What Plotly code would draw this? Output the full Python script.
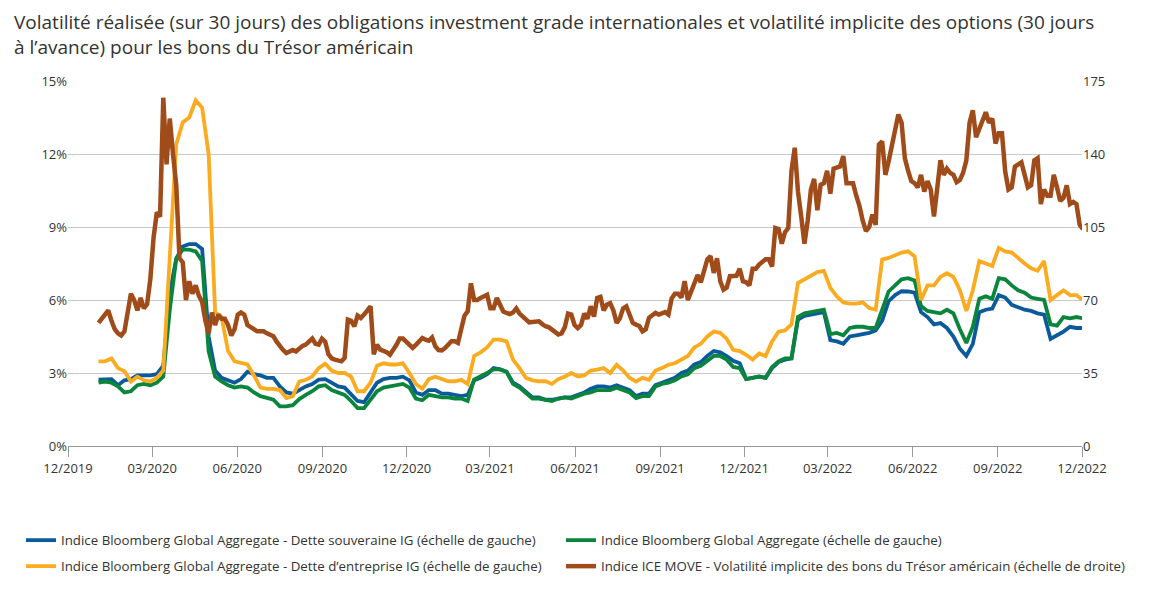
import pandas as pd
import plotly.graph_objects as go

# Weekly observations (Fridays) from 2020-01-03 to 2022-12-02
start_date = "2020-01-03"
n_weeks = 153

# Bloomberg Global Aggregate - Sovereign IG (30-day realised vol, %)
sovereign = [
    2.73, 2.75, 2.75, 2.5, 2.7, 2.75, 2.9, 2.9, 2.9, 2.95,
    3.3, 6.3, 7.7, 8.2, 8.3, 8.3, 8.1, 4.5, 3.1, 2.8,
    2.7, 2.6, 2.75, 3.05, 2.95, 2.9, 2.8, 2.8, 2.45, 2.2,
    2.15, 2.3, 2.45, 2.55, 2.73, 2.75, 2.6, 2.45, 2.4, 2.15,
    1.85, 1.8, 2.2, 2.6, 2.75, 2.8, 2.8, 2.85, 2.7, 2.2,
    2.1, 2.3, 2.3, 2.15, 2.15, 2.1, 2.05, 2.1, 2.7, 2.8,
    2.95, 3.2, 3.15, 3.05, 2.6, 2.45, 2.2, 2.0, 2.0, 1.9,
    1.9, 1.95, 2.0, 2.0, 2.1, 2.2, 2.35, 2.45, 2.45, 2.4,
    2.5, 2.4, 2.3, 2.05, 2.15, 2.15, 2.5, 2.6, 2.7, 2.8,
    3.0, 3.1, 3.35, 3.45, 3.7, 3.9, 3.85, 3.7, 3.5, 3.4,
    2.75, 2.8, 2.85, 2.8, 3.2, 3.45, 3.55, 3.6, 5.2, 5.35,
    5.4, 5.45, 5.5, 4.35, 4.3, 4.2, 4.5, 4.55, 4.6, 4.65,
    4.75, 5.15, 5.95, 6.2, 6.36, 6.35, 6.3, 5.5, 5.3, 5.0,
    5.05, 4.85, 4.5, 4.0, 3.7, 4.2, 5.5, 5.6, 5.65, 6.2,
    6.1, 5.8, 5.7, 5.6, 5.55, 5.45, 5.4, 4.4, 4.55, 4.7,
    4.9, 4.85, 4.85,
]

# Bloomberg Global Aggregate (30-day realised vol, %)
aggregate = [
    2.6, 2.65, 2.6, 2.45, 2.2, 2.25, 2.5, 2.55, 2.5, 2.6,
    2.85, 5.6, 7.7, 8.07, 8.07, 8.0, 7.6, 3.9, 2.85, 2.65,
    2.5, 2.4, 2.45, 2.4, 2.2, 2.05, 1.98, 1.9, 1.63, 1.63,
    1.68, 1.93, 2.1, 2.25, 2.45, 2.5, 2.3, 2.2, 2.1, 1.85,
    1.56, 1.56, 1.9, 2.25, 2.4, 2.45, 2.5, 2.55, 2.4, 1.95,
    1.88, 2.1, 2.05, 2.0, 2.0, 1.95, 1.95, 1.85, 2.73, 2.85,
    3.0, 3.15, 3.15, 3.05, 2.55, 2.4, 2.15, 1.95, 1.95, 1.9,
    1.85, 1.95, 2.0, 1.95, 2.05, 2.15, 2.2, 2.3, 2.3, 2.3,
    2.4, 2.3, 2.2, 1.97, 2.05, 2.05, 2.45, 2.55, 2.6, 2.7,
    2.86, 2.95, 3.2, 3.3, 3.5, 3.7, 3.7, 3.55, 3.25, 3.2,
    2.75, 2.8, 2.86, 2.8, 3.25, 3.48, 3.6, 3.6, 5.3, 5.45,
    5.5, 5.55, 5.6, 4.6, 4.65, 4.55, 4.85, 4.9, 4.9, 4.85,
    4.85, 5.6, 6.35, 6.6, 6.85, 6.9, 6.8, 5.75, 5.55, 5.5,
    5.45, 5.6, 5.45, 4.8, 4.23, 4.9, 6.05, 6.15, 6.05, 6.9,
    6.85, 6.6, 6.4, 6.3, 6.1, 6.05, 6.0, 5.0, 4.95, 5.3,
    5.25, 5.3, 5.25,
]

# Bloomberg Global Aggregate - Corporate IG (30-day realised vol, %)
corporate = [
    3.48, 3.48, 3.6, 3.2, 3.07, 2.65, 2.85, 2.7, 2.65, 2.8,
    3.1, 8.0, 12.4, 13.3, 13.5, 14.2, 13.9, 12.0, 5.5, 5.3,
    3.9, 3.48, 3.4, 3.35, 2.9, 2.4, 2.35, 2.35, 2.3, 1.97,
    2.05, 2.65, 2.72, 2.86, 3.2, 3.38, 3.1, 3.0, 3.0, 2.85,
    2.25, 2.25, 2.6, 3.3, 3.4, 3.35, 3.35, 3.4, 3.0, 2.55,
    2.35, 2.75, 2.85, 2.75, 2.66, 2.66, 2.72, 2.55, 3.7, 3.85,
    4.05, 4.37, 4.37, 4.3, 3.55, 3.2, 2.8, 2.7, 2.66, 2.66,
    2.55, 2.75, 2.85, 3.0, 2.86, 2.9, 3.1, 3.14, 3.2, 3.0,
    3.34, 3.1, 2.8, 2.65, 2.8, 2.72, 3.1, 3.2, 3.34, 3.4,
    3.55, 3.7, 4.05, 4.2, 4.5, 4.7, 4.65, 4.4, 3.95, 3.9,
    3.75, 3.55, 3.8, 3.7, 4.3, 4.7, 4.75, 5.0, 6.7, 6.85,
    7.0, 7.15, 7.2, 6.5, 6.15, 5.9, 5.85, 5.85, 5.9, 5.67,
    5.6, 7.66, 7.73, 7.85, 7.95, 8.0, 7.8, 6.0, 6.6, 6.6,
    6.95, 7.1, 6.95, 6.4, 5.55, 6.4, 7.6, 7.5, 7.4, 8.14,
    8.0, 7.95, 7.7, 7.5, 7.3, 7.2, 7.6, 6.0, 6.2, 6.4,
    6.2, 6.2, 6.0,
]

# ICE MOVE index (right axis), twice-weekly observations from 2020-01-03
move_periods = 305
move = [
    59, 61, 63, 65, 60, 56, 54, 53, 55, 64,
    73, 70, 65, 71, 66, 68, 80, 100, 112, 110,
    167, 135, 157, 140, 125, 90, 88, 70, 79, 73,
    77, 72, 69, 60, 54, 64, 58, 63, 61, 61,
    58, 53, 56, 63, 64, 63, 58, 57, 56, 55,
    55, 55, 54, 53.5, 52.6, 50, 47.5, 46, 44.6, 45.5,
    46, 45.4, 47, 48, 48.6, 50, 51.5, 49, 48.6, 51.5,
    50, 44, 42, 41.4, 41, 40.6, 42.2, 60.6, 60, 57.4,
    62.5, 61.4, 63, 65, 67, 44, 48.6, 46.2, 45.8, 45,
    43.8, 46, 48.5, 51.5, 51.5, 50, 48.6, 47, 48.5, 50.5,
    51.8, 51, 50.5, 52, 47.8, 46, 45.8, 47, 49, 50.2,
    50.2, 49.4, 56, 62.5, 64.5, 78, 70, 70, 71, 71.5,
    72.5, 66, 66, 71, 68, 64.5, 63.8, 63.3, 64, 66,
    63.5, 62, 61, 59.3, 59.5, 59.8, 59.8, 58.5, 57.4, 57,
    56, 55, 53.5, 54, 57, 63.5, 63, 58, 56.5, 58,
    63.5, 61, 67, 62, 71, 71.5, 65, 67.8, 68.5, 65,
    59, 61.2, 66, 67, 63, 59, 58.2, 57.5, 55, 56,
    61.5, 62.6, 63.8, 63, 63.5, 64.2, 63, 70.8, 73, 73,
    71.2, 79, 70, 74, 79, 82, 78.5, 84, 89.5, 91,
    83, 90, 79, 75, 76, 81.4, 81.4, 81.6, 85, 79,
    78.5, 77, 85, 85, 87, 88.5, 89.5, 89.5, 86, 104.5,
    104, 97, 102.5, 104.5, 132, 143, 122, 110, 97, 108,
    123, 128, 113, 125.3, 126, 132, 121, 133, 133.3, 134,
    139, 126, 126, 126, 120, 115, 108, 103, 105, 111,
    106, 144.5, 146, 130, 136.5, 144, 153, 158.9, 155, 138,
    132, 127, 126, 124, 130, 122, 127, 123, 110, 122,
    137, 130, 133, 131, 130, 126.5, 127.5, 131, 137, 155,
    161, 148, 152.5, 156, 160, 155, 157, 145, 150, 150,
    131.5, 123, 124, 134, 135, 136, 130, 124, 125, 137,
    138, 116, 123, 120, 120, 130, 124, 117.5, 119, 125,
    116, 117, 116, 106, 104,
]

names = [
    "Indice Bloomberg Global Aggregate - Dette souveraine IG (échelle de gauche)",
    "Indice Bloomberg Global Aggregate (échelle de gauche)",
    "Indice Bloomberg Global Aggregate - Dette d’entreprise IG (échelle de gauche)",
    "Indice ICE MOVE - Volatilité implicite des bons du Trésor américain (échelle de droite)",
]
colors = ["#0a5a9c", "#0b853c", "#fbab1f", "#a04b1a"]

left_ticks = [0, 3, 6, 9, 12, 15]
left_labels = ["0%", "3%", "6%", "9%", "12%", "15%"]
right_ticks = [0, 35, 70, 105, 140, 175]
x_tick_dates = pd.date_range("2019-12-01", "2022-12-01", freq="3MS")
x_tick_labels = [d.strftime("%m/%Y") for d in x_tick_dates]

dates = pd.date_range(start_date, periods=n_weeks, freq="7D")
move_dates = pd.date_range(start_date, periods=move_periods, freq="84h")

FONT = "Open Sans"
TXT = "#333333"
# the page body adds an 8px offset, so the figure is 8px smaller each way
W, H = 1161, 588

# one single-entry legend per item: (legend id, left px, top px)
legend_slots = [("legend", 13, 517), ("legend2", 553, 517),
                ("legend3", 13, 543), ("legend4", 553, 543)]

fig = go.Figure()
series = [(dates, sovereign), (dates, aggregate), (dates, corporate), (move_dates, move)]
for i, ((xs, vals), name, col) in enumerate(zip(series, names, colors)):
    fig.add_trace(go.Scatter(
        x=xs, y=vals, name=name, mode="lines",
        line=dict(color=col, width=4.5 if i == 3 else 3.8),
        yaxis="y2" if i == 3 else "y",
        legend=legend_slots[i][0],
    ))

legend_layouts = {}
for lid, lx, ly in legend_slots:
    legend_layouts[lid] = dict(
        orientation="h", xref="container", yref="container",
        x=lx / W, y=1 - ly / H, xanchor="left", yanchor="top",
        font=dict(size=13.3, color=TXT, family=FONT),
        bgcolor="rgba(0,0,0,0)",
    )

grid = "#c8c8c8"
fig.update_layout(
    width=W, height=H,
    margin=dict(l=60, r=87, t=73, b=150),
    paper_bgcolor="white", plot_bgcolor="white",
    font=dict(family=FONT, size=13, color=TXT),
    showlegend=True,
    xaxis=dict(
        range=["2019-12-01", "2022-12-01"],
        tickvals=x_tick_dates, ticktext=x_tick_labels,
        showgrid=False, showline=True, linecolor="#999999", linewidth=1,
        ticks="outside", ticklen=10, tickcolor="#999999",
        tickfont=dict(size=13, color=TXT), zeroline=False,
    ),
    yaxis=dict(
        range=[0, 15], tickvals=left_ticks, ticktext=left_labels,
        showgrid=True, gridcolor=grid, gridwidth=1, zeroline=False,
        showline=False, ticks="", tickfont=dict(size=13, color=TXT),
    ),
    yaxis2=dict(
        range=[0, 175], tickvals=right_ticks, overlaying="y", side="right",
        showgrid=False, zeroline=False, showline=False, ticks="",
        tickfont=dict(size=13, color=TXT),
    ),
    annotations=[
        dict(text="Volatilité réalisée (sur 30 jours) des obligations investment grade internationales et volatilité implicite des options (30 jours",
             xref="paper", yref="paper", x=(4 - 60) / 1014, y=(438 - 14) / 365,
             xanchor="left", yanchor="middle", showarrow=False,
             font=dict(size=19, color=TXT, family=FONT)),
        dict(text="à l’avance) pour les bons du Trésor américain",
             xref="paper", yref="paper", x=(4 - 60) / 1014, y=(438 - 39) / 365,
             xanchor="left", yanchor="middle", showarrow=False,
             font=dict(size=19, color=TXT, family=FONT)),
    ],
    **legend_layouts,
)
fig.write_html("out.html")
